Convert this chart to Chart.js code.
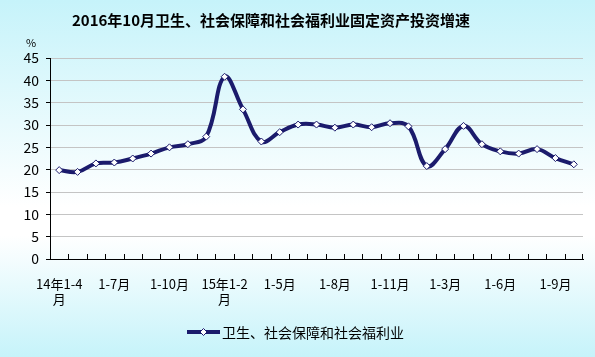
<!DOCTYPE html>
<html>
<head>
<meta charset="utf-8">
<script src="https://cdn.jsdelivr.net/npm/chart.js@4.4.0/dist/chart.umd.min.js"></script>
<style>
  html, body { margin: 0; padding: 0; }
  body {
    width: 595px; height: 357px;
    background: linear-gradient(to bottom, #c6f3fa 0%, #ffffff 58%, #ffffff 66%, #c6f3fa 100%);
  }
  #wrap { position: relative; width: 595px; height: 357px; }
</style>
</head>
<body>
<div id="wrap"><canvas id="chart" width="595" height="357"></canvas></div>
<script>
const titleText = '2016年10月卫生、社会保障和社会福利业固定资产投资增速';
const seriesName = '卫生、社会保障和社会福利业';

const categories = [
  '14年1-4月', '1-5月', '1-6月', '1-7月', '1-8月', '1-9月', '1-10月', '1-11月', '1-12月',
  '15年1-2月', '1-3月', '1-4月', '1-5月', '1-6月', '1-7月', '1-8月', '1-9月', '1-10月', '1-11月', '1-12月',
  '16年1-2月', '1-3月', '1-4月', '1-5月', '1-6月', '1-7月', '1-8月', '1-9月', '1-10月'
];

const values = [
  19.9, 19.5, 21.4, 21.6, 22.5, 23.6, 25.0, 25.7, 27.4,
  40.8, 33.5, 26.3, 28.4, 30.1, 30.1, 29.4, 30.1, 29.5, 30.4, 29.7,
  20.8, 24.6, 29.8, 25.7, 24.1, 23.6, 24.6, 22.6, 21.2
];

// only every third month gets a label
const labelEvery = 3;

const lineColor = '#1b1b6c';
const cjk = '"Noto Sans CJK SC", "Noto Sans", sans-serif';

// title, % unit, inward x ticks, legend
const extras = {
  id: 'extras',
  afterDraw(chart) {
    const ctx = chart.ctx;
    const area = chart.chartArea;
    const x = chart.scales.x;
    ctx.save();

    ctx.fillStyle = '#000';
    ctx.textAlign = 'center';
    ctx.textBaseline = 'middle';
    ctx.font = 'bold 15px ' + cjk;
    ctx.fillText(titleText, 271, 20);

    ctx.font = '11px ' + cjk;
    ctx.fillText('%', 31, 43);

    // tick marks between categories, pointing up into the plot
    ctx.strokeStyle = '#000';
    ctx.lineWidth = 1;
    ctx.beginPath();
    for (let i = 1; i <= categories.length; i++) {
      const px = Math.round((x.getPixelForValue(i - 1) + x.getPixelForValue(i)) / 2) + 0.5;
      const edge = i === categories.length ? Math.round(area.right) - 0.5 : px;
      ctx.moveTo(edge, area.bottom);
      ctx.lineTo(edge, area.bottom - 5);
    }
    ctx.stroke();

    // legend
    const ly = 332;
    ctx.strokeStyle = lineColor;
    ctx.lineWidth = 4;
    ctx.beginPath();
    ctx.moveTo(187, ly);
    ctx.lineTo(220, ly);
    ctx.stroke();
    ctx.fillStyle = '#fff';
    ctx.lineWidth = 1;
    ctx.beginPath();
    ctx.moveTo(203.5, ly - 3.5);
    ctx.lineTo(207, ly);
    ctx.lineTo(203.5, ly + 3.5);
    ctx.lineTo(200, ly);
    ctx.closePath();
    ctx.fill();
    ctx.stroke();
    ctx.fillStyle = '#000';
    ctx.textAlign = 'left';
    ctx.font = '14px ' + cjk;
    ctx.fillText(seriesName, 222, ly + 1);

    ctx.restore();
  }
};

new Chart(document.getElementById('chart'), {
  type: 'line',
  data: {
    labels: categories,
    datasets: [{
      label: seriesName,
      data: values,
      borderColor: lineColor,
      borderWidth: 4,
      tension: 0.4,
      pointStyle: 'rectRot',
      pointRadius: 3.5,
      pointBackgroundColor: '#fff',
      pointBorderColor: lineColor,
      pointBorderWidth: 1
    }]
  },
  options: {
    responsive: false,
    animation: false,
    events: [],
    layout: { padding: { top: 58, left: 0, right: 12, bottom: 0 } },
    plugins: {
      legend: { display: false },
      title: { display: false },
      tooltip: { enabled: false }
    },
    scales: {
      x: {
        offset: true,
        grid: { display: false },
        border: { color: '#000', width: 1 },
        afterFit(scale) { scale.height = 98; },
        ticks: {
          autoSkip: false,
          maxRotation: 0,
          padding: 9,
          color: '#000',
          font: { family: cjk, size: 13 },
          callback(value, index) {
            if (index % labelEvery !== 0) return '';
            const lab = categories[index];
            if (lab.indexOf('年') >= 0) return [lab.slice(0, -1), '月'];
            return lab;
          }
        }
      },
      y: {
        min: 0,
        max: 45,
        afterFit(scale) { scale.width = 50; },
        grid: { color: '#c4c4c4', tickColor: '#000', tickLength: 4 },
        border: { color: '#000', width: 1 },
        ticks: {
          stepSize: 5,
          padding: 7,
          color: '#000',
          font: { family: cjk, size: 14 }
        }
      }
    }
  },
  plugins: [extras]
});
</script>
</body>
</html>
